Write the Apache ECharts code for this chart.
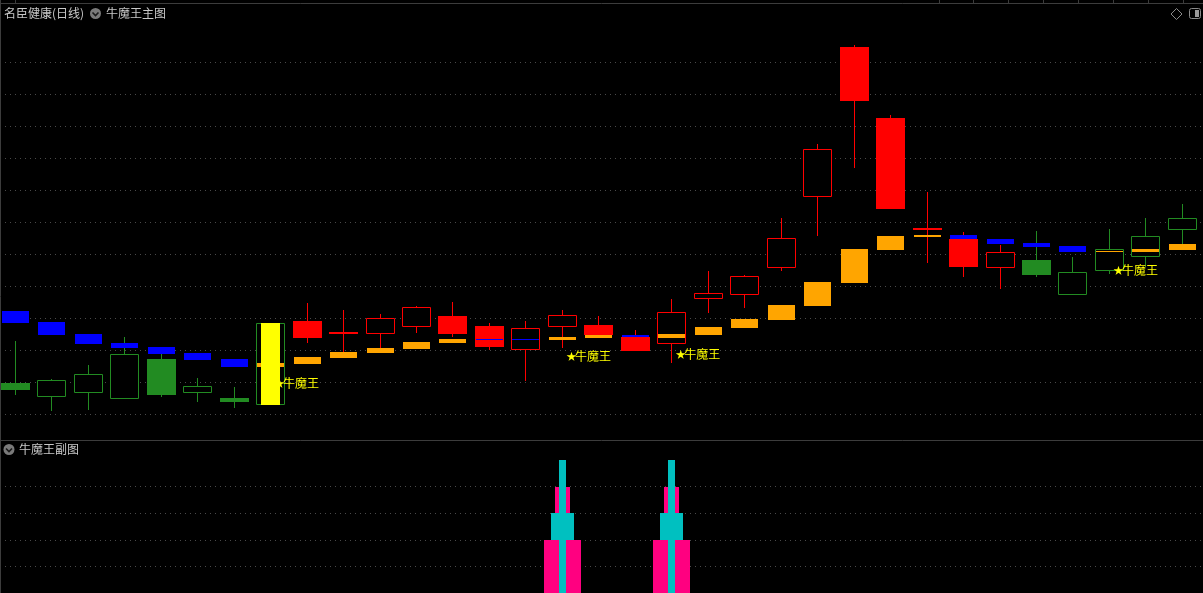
<!DOCTYPE html>
<html><head><meta charset="utf-8">
<script src="https://cdn.jsdelivr.net/npm/echarts@6/dist/echarts.min.js"></script>
<style>html,body{margin:0;padding:0;background:#000;overflow:hidden}#c{width:1203px;height:593px}</style>
</head><body><div id="c"></div>
<script>
// ---------- data ----------
const categories = ['1','2','3','4','5','6','7','8','9','10','11','12','13','14','15','16','17','18','19','20','21','22','23','24','25','26','27','28','29','30','31','32','33'];
const opens  = [10.97,10.54,10.67,10.48,11.72,10.67,10.51,10.29,12.91,12.54,12.51,12.73,13.06,12.75,12.01,12.73,12.78,12.42,12.18,13.60,13.71,14.57,16.79,21.47,19.25,15.79,15.47,14.57,14.81,13.73,14.48,14.92,15.76];
const closes = [10.76,11.06,11.25,11.88,10.59,10.88,10.38,12.84,12.38,12.54,13.00,13.34,12.51,12.10,12.69,13.09,12.47,11.98,13.19,13.78,14.31,15.49,18.28,19.78,16.41,15.79,14.59,15.06,14.34,14.44,15.16,15.56,16.13];
const lows   = [10.59,10.10,10.13,10.48,10.54,10.38,10.20,10.29,12.23,11.94,12.06,12.54,12.42,12.01,11.04,12.07,12.47,11.98,11.60,13.15,13.32,14.48,15.57,17.70,16.41,14.72,14.28,13.91,14.28,13.73,14.38,14.59,15.31];
const highs  = [12.28,11.09,11.53,12.41,11.88,11.13,10.84,12.84,13.47,13.25,13.13,13.38,13.50,12.84,12.91,13.25,13.06,12.63,13.59,14.47,14.34,16.13,18.44,21.53,19.34,16.94,15.69,15.28,15.72,14.91,15.78,16.13,16.56];
const trend  = ['G','G','G','G','G','G','G','G','R','R','R','R','R','R','R','R','R','R','R','R','R','R','R','R','R','R','R','R','G','G','G','G','G'];
const bandTop    = [13.22,12.88,12.50,12.22,12.09,11.91,11.72,11.60,11.78,11.94,12.06,12.25,12.34,12.35,12.35,12.41,12.47,12.47,12.50,12.72,12.97,13.41,14.13,15.16,15.56,15.59,15.59,15.47,15.34,15.25,15.10,15.16,15.31];
const bandBottom = [12.84,12.47,12.20,12.07,11.88,11.69,11.47,11.48,11.57,11.76,11.92,12.04,12.23,12.32,12.32,12.32,12.38,12.40,12.38,12.48,12.70,12.95,13.38,14.10,15.13,15.53,15.46,15.31,15.22,15.06,15.07,15.06,15.13];
const bandKind   = ['B','B','B','B','B','B','B','O','O','O','O','O','O','B','B','O','O','B','O','O','O','O','O','O','O','O','B','B','B','B','O','O','O'];
const highlightIndex = [7];
const highlightTop = [12.84];
const highlightBottom = [10.29];
const signalIndex = [7, 15, 18, 30];
const signalLevel = [10.97, 11.81, 11.875, 14.48];
const signalText = '牛魔王';
const subIndex = [15, 18];
const subPinkMid = [4, 4];
const subCyanMid = [3, 3];
const subPinkWide = [2, 2];
const subCyanThin = [5, 5];

// ---------- styles ----------
const RED = '#ff0000', GREEN = '#228b22', BLUE = '#0000ff', ORANGE = '#ffa500', YELLOW = '#ffff00';
const PINK = '#ff0080', CYAN = '#00c0c0';
const GRIDC = '#4a4a4a';
const FONT = '"Noto Sans CJK SC", "Noto Sans", sans-serif';
// visible x-range expressed in category index units (first slot is partly cut off on the left)
const X_MIN = -0.4204, X_MAX = 32.566;

function cxOf(api, i) { return Math.round(api.coord([i, 0])[0] - 0.5) + 0.5; }

function candleItem(params, api) {
  const k = params.dataIndex;
  const i = api.value(0), o = api.value(1), c = api.value(2), l = api.value(3), h = api.value(4);
  const color = trend[k] === 'R' ? RED : GREEN;
  const cx = cxOf(api, i);
  const half = 14;
  const yO = Math.round(api.coord([i, o])[1]), yC = Math.round(api.coord([i, c])[1]);
  const yH = Math.round(api.coord([i, h])[1]), yL = Math.round(api.coord([i, l])[1]);
  const top = Math.min(yO, yC), bot = Math.max(yO, yC);
  const ch = [];
  ch.push({type: 'line', shape: {x1: cx, y1: yH, x2: cx, y2: yL}, style: {stroke: color, lineWidth: 1}});
  if (bot - top < 2) {
    ch.push({type: 'rect', shape: {x: cx - half - 0.5, y: top - 1, width: 2 * half + 1, height: 2}, style: {fill: color}});
  } else if (c >= o) {
    ch.push({type: 'rect', shape: {x: cx - half, y: top + 0.5, width: 2 * half, height: bot - top - 1}, style: {fill: '#000', stroke: color, lineWidth: 1}});
  } else {
    ch.push({type: 'rect', shape: {x: cx - half - 0.5, y: top, width: 2 * half + 1, height: bot - top}, style: {fill: color}});
  }
  return {type: 'group', children: ch};
}

function bandItem(params, api) {
  const k = params.dataIndex;
  const i = api.value(0);
  const cx = cxOf(api, i);
  const yT = Math.round(api.coord([i, api.value(1)])[1]);
  const yB = Math.round(api.coord([i, api.value(2)])[1]);
  return {type: 'rect', shape: {x: cx - 13.5, y: yT, width: 27, height: Math.max(1, yB - yT)},
          style: {fill: bandKind[k] === 'B' ? BLUE : ORANGE}};
}

function highlightItem(params, api) {
  const i = api.value(0);
  const cx = cxOf(api, i);
  const yT = Math.round(api.coord([i, api.value(1)])[1]);
  const yB = Math.round(api.coord([i, api.value(2)])[1]);
  return {type: 'rect', shape: {x: cx - 9.5, y: yT, width: 19, height: yB - yT}, style: {fill: YELLOW}};
}

function signalItem(params, api) {
  const i = api.value(0);
  const p = api.coord([i, api.value(1)]);
  return {type: 'group', children: [
    {type: 'text', x: p[0] + 4, y: p[1], style: {text: '★', fill: YELLOW, font: '10px ' + FONT, verticalAlign: 'middle', align: 'left'}},
    {type: 'text', x: p[0] + 12.5, y: p[1], style: {text: signalText, fill: YELLOW, font: '12px ' + FONT, verticalAlign: 'middle', align: 'left'}}
  ]};
}

function subItem(params, api) {
  const i = api.value(0);
  const cx = cxOf(api, i);
  const w = api.size([1, 0])[0];
  const y0 = api.coord([i, 0])[1];
  const mk = (v, frac, col) => {
    const yT = Math.round(api.coord([i, v])[1]);
    const ww = Math.round(w * frac);
    return {type: 'rect', shape: {x: Math.round(cx - ww / 2), y: yT, width: ww, height: y0 - yT}, style: {fill: col}};
  };
  return {type: 'group', children: [
    mk(api.value(1), 0.41, PINK),
    mk(api.value(2), 0.63, CYAN),
    mk(api.value(3), 1.01, PINK),
    mk(api.value(4), 0.19, CYAN)
  ]};
}

const candleData = categories.map((c, i) => [i, opens[i], closes[i], lows[i], highs[i]]);
const bandData = categories.map((c, i) => [i, bandTop[i], bandBottom[i]]);
const hlData = highlightIndex.map((i, k) => [i, highlightTop[k], highlightBottom[k]]);
const sigData = signalIndex.map((i, k) => [i, signalLevel[k]]);
const subData = subIndex.map((i, k) => [i, subPinkMid[k], subCyanMid[k], subPinkWide[k], subCyanThin[k]]);

const hiddenAxis = {axisLine: {show: false}, axisTick: {show: false}, axisLabel: {show: false}};
const topTicks = [15, 939, 973, 1008, 1043, 1078, 1113, 1148, 1183];

function headerIcon(cx, cy) {
  return [
    {type: 'circle', shape: {cx: cx, cy: cy, r: 5.5}, style: {fill: '#7a7a7a'}, z: 100},
    {type: 'polyline', shape: {points: [[cx - 3, cy - 1], [cx, cy + 2], [cx + 3, cy - 1]]}, style: {stroke: '#1a1a1a', lineWidth: 1.6, fill: null}, z: 101}
  ];
}

const graphics = [
  {type: 'line', shape: {x1: 0, y1: 3.5, x2: 1203, y2: 3.5}, style: {stroke: '#3c3c3c', lineWidth: 1}, z: 100},
  {type: 'line', shape: {x1: 0, y1: 440.5, x2: 1203, y2: 440.5}, style: {stroke: '#3c3c3c', lineWidth: 1}, z: 100},
  {type: 'line', shape: {x1: 0.5, y1: 0, x2: 0.5, y2: 593}, style: {stroke: '#3c3c3c', lineWidth: 1}, z: 100},
  {type: 'text', x: 4, y: 13.5, style: {text: '名臣健康(日线)', fill: '#c8c8c8', font: '12px ' + FONT, verticalAlign: 'middle'}, z: 100},
  {type: 'text', x: 106, y: 13.5, style: {text: '牛魔王主图', fill: '#c8c8c8', font: '12px ' + FONT, verticalAlign: 'middle'}, z: 100},
  {type: 'text', x: 19, y: 449.5, style: {text: '牛魔王副图', fill: '#c8c8c8', font: '12px ' + FONT, verticalAlign: 'middle'}, z: 100},
  {type: 'polygon', shape: {points: [[1176.5, 8.5], [1182, 14], [1176.5, 19.5], [1171, 14]]}, style: {stroke: '#8a8a8a', fill: null, lineWidth: 1}, z: 100},
  {type: 'rect', shape: {x: 1189.5, y: 8.5, width: 11, height: 10, r: 2}, style: {stroke: '#8a8a8a', fill: null, lineWidth: 1}, z: 100},
  {type: 'rect', shape: {x: 1195, y: 10, width: 4, height: 7}, style: {fill: '#9a9a9a'}, z: 100}
].concat(headerIcon(95.5, 13.5), headerIcon(9, 449.5),
  topTicks.map(x => ({type: 'line', shape: {x1: x + 0.5, y1: 0, x2: x + 0.5, y2: 3}, style: {stroke: '#3c3c3c', lineWidth: 1}, z: 100})));

const chart = echarts.init(document.getElementById('c'), null, {renderer: 'canvas'});
chart.setOption({
  backgroundColor: '#000',
  animation: false,
  grid: [
    {left: 0, right: 0, top: 30, bottom: 179},
    {left: 0, right: 0, top: 460, bottom: -4}
  ],
  xAxis: [
    Object.assign({type: 'value', gridIndex: 0, min: X_MIN, max: X_MAX, splitLine: {show: false}}, hiddenAxis),
    Object.assign({type: 'value', gridIndex: 1, min: X_MIN, max: X_MAX, splitLine: {show: false}}, hiddenAxis)
  ],
  yAxis: [
    Object.assign({type: 'value', gridIndex: 0, min: 10, max: 22, interval: 1,
      splitLine: {show: true, showMaxLine: false, showMinLine: true, lineStyle: {color: GRIDC, type: [1, 4], width: 1}}}, hiddenAxis),
    Object.assign({type: 'value', gridIndex: 1, min: 0, max: 5, interval: 1,
      splitLine: {show: true, showMaxLine: false, showMinLine: false, lineStyle: {color: GRIDC, type: [1, 4], width: 1}}}, hiddenAxis)
  ],
  series: [
    {type: 'custom', name: 'K线', xAxisIndex: 0, yAxisIndex: 0, renderItem: candleItem, data: candleData, encode: {x: 0, y: [1, 2, 3, 4]}, z: 2, silent: true},
    {type: 'custom', name: '趋势带', xAxisIndex: 0, yAxisIndex: 0, renderItem: bandItem, data: bandData, encode: {x: 0, y: [1, 2]}, z: 3, silent: true},
    {type: 'custom', name: '信号柱', xAxisIndex: 0, yAxisIndex: 0, renderItem: highlightItem, data: hlData, encode: {x: 0, y: [1, 2]}, z: 4, silent: true},
    {type: 'custom', name: '牛魔王', xAxisIndex: 0, yAxisIndex: 0, renderItem: signalItem, data: sigData, encode: {x: 0, y: 1}, z: 5, silent: true},
    {type: 'custom', name: '副图', xAxisIndex: 1, yAxisIndex: 1, renderItem: subItem, data: subData, encode: {x: 0, y: [1, 2, 3, 4]}, z: 2, silent: true}
  ],
  graphic: graphics
});
</script>
</body></html>
